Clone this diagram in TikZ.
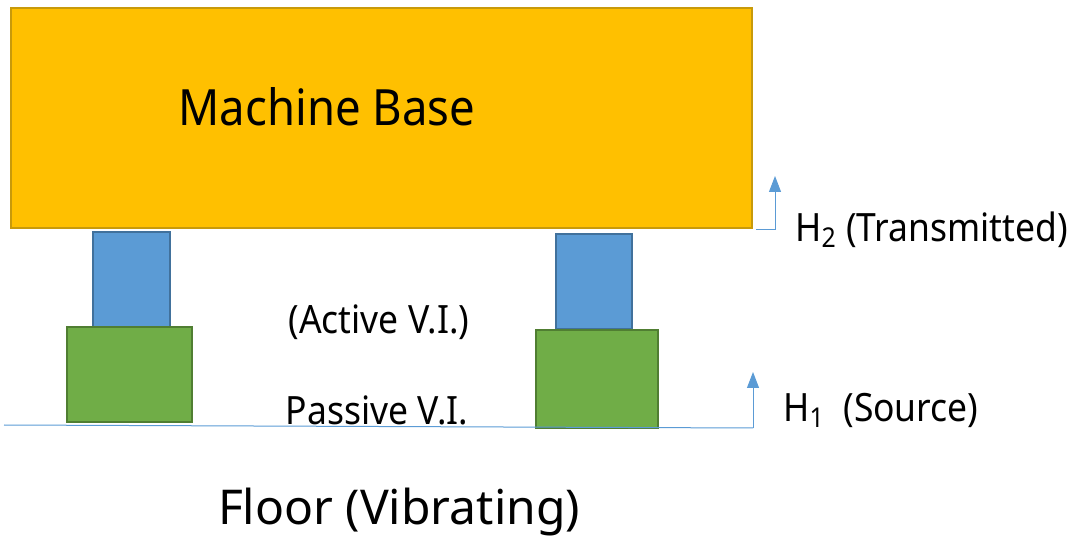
\documentclass[tikz,border=0pt]{standalone}
\usepackage{fontspec}
\setmainfont{Noto Sans}
\newfontfamily\narrowfont[FakeStretch=0.91]{Noto Sans}
\usepackage{tikz}
\usetikzlibrary{arrows.meta,positioning}

\definecolor{baseorange}{HTML}{FFC000}
\definecolor{baseedge}{HTML}{C89A0A}
\definecolor{activeblue}{HTML}{5B9BD5}
\definecolor{activeedge}{HTML}{41719C}
\definecolor{passivegreen}{HTML}{70AD47}
\definecolor{passiveedge}{HTML}{507E32}

\tikzset{
  basebox/.style={fill=baseorange, draw=baseedge, line width=1.2pt},
  activebox/.style={fill=activeblue, draw=activeedge, line width=1.2pt},
  passivebox/.style={fill=passivegreen, draw=passiveedge, line width=1.2pt},
  thinline/.style={draw=activeblue, line width=0.5pt},
  lbl/.style={font=\narrowfont\fontsize{19.5}{22}\selectfont, inner sep=0pt}
}

\begin{document}
\begin{tikzpicture}[x=0.5pt,y=-0.5pt]
  \useasboundingbox (0,0) rectangle (1069,544);

  % machine base
  \draw[basebox] (11,8) rectangle (752,228);
  \node[lbl, font=\narrowfont\fontsize{25}{30}\selectfont] (mbase) at (327,107) {Machine Base};

  % active isolators
  \draw[activebox] (93,232) rectangle (170,327);
  \draw[activebox] (556,234) rectangle (632,329);

  % passive isolators
  \draw[passivebox] (67,327) rectangle (192,422);
  \draw[passivebox] (536,330) rectangle (658,428);

  % floor
  \coordinate (fl) at (4,425);
  \coordinate (fr) at (753,428);
  \draw[thinline] (fl) -- (fr);

  % source arrow
  \coordinate (h1tip) at (753,372);
  \draw[thinline, -{Triangle[width=6pt,length=8pt]}] (fr) -- (h1tip);

  % transmitted arrow
  \coordinate (h2l) at (756,230);
  \coordinate (h2b) at (775,230);
  \coordinate (h2tip) at (775,176);
  \draw[thinline] (h2l) -- (h2b);
  \draw[thinline, -{Triangle[width=6pt,length=8pt]}] (h2b) -- (h2tip);

  % labels
  \node[lbl, anchor=west] (h2) at (795,230) {H\textsubscript{2} (Transmitted)};
  \node[lbl, anchor=west] (h1) at (783,410) {H\textsubscript{1}\ \ (Source)};
  \node[lbl] (active) at (379,322) {(Active V.I.)};
  \node[lbl] (passive) at (377,410) {Passive V.I.};
  \node[lbl, font=\fontsize{24}{28}\selectfont] (floor) at (399,512) {Floor (Vibrating)};
\end{tikzpicture}
\end{document}
